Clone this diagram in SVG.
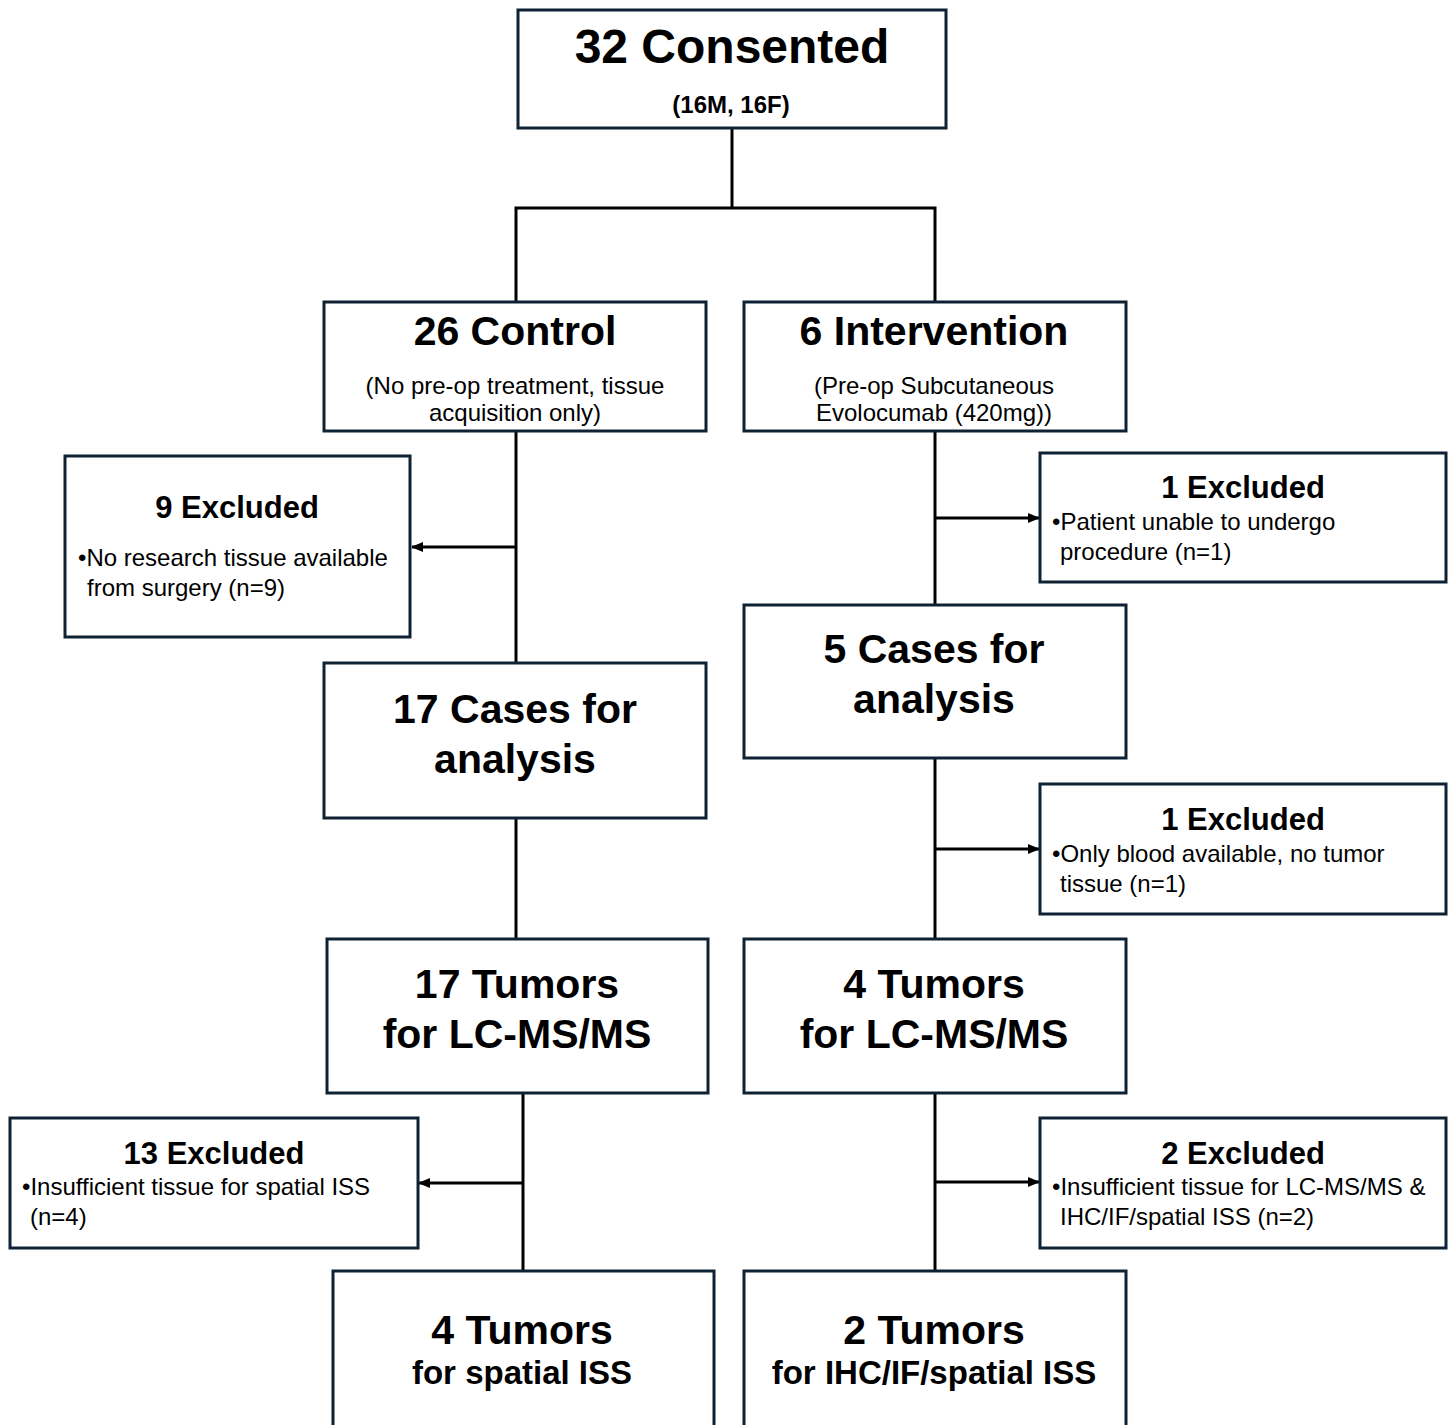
<svg xmlns="http://www.w3.org/2000/svg" width="1453" height="1425" viewBox="0 0 1453 1425">
<style>
.box{fill:#fff;stroke:#0f2233;stroke-width:3}
.ln{fill:none;stroke:#000;stroke-width:3}
text{font-family:"Liberation Sans",Arial,sans-serif;fill:#000}
.h1{font-size:48px;font-weight:bold;text-anchor:middle}
.h2{font-size:41px;font-weight:bold;text-anchor:middle}
.h3{font-size:31px;font-weight:bold;text-anchor:middle}
.sub{font-size:24px;text-anchor:middle}
.subb{font-size:24px;font-weight:bold;text-anchor:middle}
.sm{font-size:33px;font-weight:bold;text-anchor:middle}
.ex{font-size:24px}
</style>
<defs>
<marker id="ah" markerWidth="12" markerHeight="10" refX="11" refY="5" orient="auto" markerUnits="userSpaceOnUse">
<path d="M0,0 L12,5 L0,10 Z" fill="#000"/>
</marker>
</defs>
<g id="connectors">
<polyline class="ln" points="732,128 732,208"/>
<polyline class="ln" points="516,302 516,208 935,208 935,302"/>
<line class="ln" x1="516" y1="431" x2="516" y2="663"/>
<line class="ln" x1="516" y1="547" x2="412" y2="547" marker-end="url(#ah)"/>
<line class="ln" x1="935" y1="431" x2="935" y2="605"/>
<line class="ln" x1="935" y1="518" x2="1039" y2="518" marker-end="url(#ah)"/>
<line class="ln" x1="516" y1="818" x2="516" y2="939"/>
<line class="ln" x1="935" y1="758" x2="935" y2="939"/>
<line class="ln" x1="935" y1="849" x2="1039" y2="849" marker-end="url(#ah)"/>
<line class="ln" x1="523" y1="1093" x2="523" y2="1271"/>
<line class="ln" x1="523" y1="1183" x2="419" y2="1183" marker-end="url(#ah)"/>
<line class="ln" x1="935" y1="1093" x2="935" y2="1271"/>
<line class="ln" x1="935" y1="1182" x2="1039" y2="1182" marker-end="url(#ah)"/>
</g>
<g id="consented">
<rect class="box" x="518" y="10" width="428" height="118"/>
<text class="h1" x="732" y="63">32 Consented</text>
<text class="subb" x="731" y="113">(16M, 16F)</text>
</g>
<g id="control">
<rect class="box" x="324" y="302" width="382" height="129"/>
<text class="h2" x="515" y="345">26 Control</text>
<text class="sub" x="515" y="394">(No pre-op treatment, tissue</text>
<text class="sub" x="515" y="421">acquisition only)</text>
</g>
<g id="intervention">
<rect class="box" x="744" y="302" width="382" height="129"/>
<text class="h2" x="934" y="345">6 Intervention</text>
<text class="sub" x="934" y="394">(Pre-op Subcutaneous</text>
<text class="sub" x="934" y="421">Evolocumab (420mg))</text>
</g>
<g id="excluded9">
<rect class="box" x="65" y="456" width="345" height="181"/>
<text class="h3" x="237" y="518">9 Excluded</text>
<text class="ex" x="78" y="566">•No research tissue available</text>
<text class="ex" x="87" y="596">from surgery (n=9)</text>
</g>
<g id="excluded1a">
<rect class="box" x="1040" y="453" width="406" height="129"/>
<text class="h3" x="1243" y="498">1 Excluded</text>
<text class="ex" x="1052" y="530">•Patient unable to undergo</text>
<text class="ex" x="1060" y="560">procedure (n=1)</text>
</g>
<g id="cases5">
<rect class="box" x="744" y="605" width="382" height="153"/>
<text class="h2" x="934" y="663">5 Cases for</text>
<text class="h2" x="934" y="713">analysis</text>
</g>
<g id="cases17">
<rect class="box" x="324" y="663" width="382" height="155"/>
<text class="h2" x="515" y="723">17 Cases for</text>
<text class="h2" x="515" y="773">analysis</text>
</g>
<g id="excluded1b">
<rect class="box" x="1040" y="784" width="406" height="130"/>
<text class="h3" x="1243" y="830">1 Excluded</text>
<text class="ex" x="1052" y="862">•Only blood available, no tumor</text>
<text class="ex" x="1060" y="892">tissue (n=1)</text>
</g>
<g id="tumors17">
<rect class="box" x="327" y="939" width="381" height="154"/>
<text class="h2" x="517" y="998">17 Tumors</text>
<text class="h2" x="517" y="1048">for LC-MS/MS</text>
</g>
<g id="tumors4">
<rect class="box" x="744" y="939" width="382" height="154"/>
<text class="h2" x="934" y="998">4 Tumors</text>
<text class="h2" x="934" y="1048">for LC-MS/MS</text>
</g>
<g id="excluded13">
<rect class="box" x="10" y="1118" width="408" height="130"/>
<text class="h3" x="214" y="1164">13 Excluded</text>
<text class="ex" x="22" y="1195">•Insufficient tissue for spatial ISS</text>
<text class="ex" x="30" y="1225">(n=4)</text>
</g>
<g id="excluded2">
<rect class="box" x="1040" y="1118" width="406" height="130"/>
<text class="h3" x="1243" y="1164">2 Excluded</text>
<text class="ex" x="1052" y="1195">•Insufficient tissue for LC-MS/MS &amp;</text>
<text class="ex" x="1060" y="1225">IHC/IF/spatial ISS (n=2)</text>
</g>
<g id="tumors4spatial">
<rect class="box" x="333" y="1271" width="381" height="160"/>
<text class="h2" x="522" y="1344">4 Tumors</text>
<text class="sm" x="522" y="1384">for spatial ISS</text>
</g>
<g id="tumors2">
<rect class="box" x="744" y="1271" width="382" height="160"/>
<text class="h2" x="934" y="1344">2 Tumors</text>
<text class="sm" x="934" y="1384">for IHC/IF/spatial ISS</text>
</g>
</svg>
